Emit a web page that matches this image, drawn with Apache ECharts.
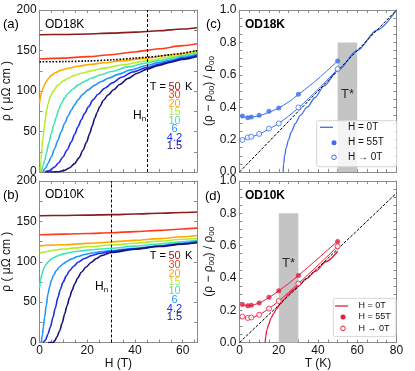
<!DOCTYPE html>
<html><head><meta charset="utf-8">
<script src="https://cdn.jsdelivr.net/npm/echarts@6/dist/echarts.min.js"></script>
<style>html,body{margin:0;padding:0;background:#fff}#c{width:415px;height:371px}</style>
</head><body><div id="c"></div>
<script>
// ---------------- DATA ----------------
const tempLabels = ['50','30','20','15','10','6','4.2','1.5'];
const tempColors = ['#8b1c1c','#ff3b1c','#ffa800','#b6ec2e','#3ee6b4','#2196ff','#1f2fe8','#14147a'];

// Panel (a): OD18K, rho (uOhm cm) vs H (T)
const od18_50 = [[0,169.5],[10,169.8],[20,170.4],[30,171.4],[40,172.7],[50,174.4],[60,176.5],[66,178]];
const od18_30 = [[0,139.5],[10,140.6],[20,142.4],[30,144.8],[40,148.2],[45,150.2],[50,152.2],[60,156],[66,158.3]];
const od18_20 = [[0,85],[0.4,93],[0.8,98.5],[1.4,103],[2,107.5],[2.8,111.7],[3.8,115.8],[4.9,119.3],[6.5,122.5],[9,125.7],[12,128],[16,130.5],[21,132.7],[27,134.8],[35,137.5],[45,140.6],[55,144.8],[66,149.8]];
const od18_15 = [[0.3,0],[0.6,15],[1,30],[1.4,42],[2,57],[2.4,66],[3,77],[3.5,84],[4.5,93],[5.6,99.3],[7.7,107.3],[10,112.5],[11.9,115.8],[14.5,119],[17.5,122],[22,125.2],[27.3,128.3],[35,132.5],[45,137.2],[55,142.3],[66,148]];
const od18_10 = [[0.7,0],[1.5,8],[2.2,15],[2.8,22.7],[3.8,35],[4.9,47.6],[6,58.5],[7,68.2],[8,77],[9.1,84.5],[10.5,91.5],[11.9,97],[14,102.5],[16.1,107.3],[19,112],[21.7,115.7],[25,119.5],[30.1,124],[37,129.8],[45,134.5],[50,137.5],[55,140.5],[60,143.4],[66,146.5]];
const od18_6 = [[1.4,0],[2.5,5],[3.5,10.5],[4.9,18.6],[6.3,29],[7.7,39.3],[9,49.5],[10.5,60],[12,69.5],[13.3,76.5],[14.7,83],[16.1,89],[18,95.5],[20.3,101.4],[23,107],[25.9,111.7],[29,116],[32.9,120.5],[38,126],[45,131.5],[50,135],[55,138.3],[60,141.6],[66,145]];
const od18_4p2 = [[2.1,0],[4,1.5],[6.3,6.2],[8,11.5],[9.8,18.6],[11.5,27],[13.3,37.2],[14.7,46.5],[16.1,55.8],[17.5,64.5],[18.9,72.4],[20.5,80.5],[22.4,89],[24.5,96],[27.3,103.4],[30.5,110],[34.3,117],[39,123.5],[45,129],[50,133],[55,136.8],[60,140.3],[66,143.8]];
const od18_1p5 = [[2.8,0],[5,0],[8,0.3],[10.5,2],[12.5,5],[14.7,10.3],[16.5,17.5],[18.2,26.9],[19.7,37],[21,47.6],[22.1,57],[23.1,66.2],[24.1,73.5],[25.2,80.6],[26.8,88.5],[28.7,95],[31,101.5],[33.6,108],[37,115.5],[41,122],[45,127],[50,131.5],[55,135.5],[60,139],[66,142.5]];
const od18_normal = [[0,136],[10,136.3],[20,137],[30,138.4],[40,140.5],[45,141.7],[50,143.1],[55,144.8],[60,146.6],[66,149.8]];
const Hn18 = 45;

// Panel (b): OD10K
const od10_50 = [[0,157],[10,157.3],[20,157.7],[30,158.3],[40,159.1],[50,160],[60,161],[66,161.6]];
const od10_30 = [[0,133.5],[10,134.2],[20,135],[30,136],[40,137.3],[50,138.8],[60,140.6],[66,141.6]];
const od10_20 = [[0,119.7],[10,121],[20,122.7],[30,124.5],[40,126.5],[50,128.6],[60,131],[66,132.5]];
const od10_15 = [[0,110.5],[1,111.3],[2,112],[3.5,113],[5,113.8],[7.5,114.9],[10,115.8],[15,117.2],[20,118.5],[30,120.7],[40,123],[50,125.5],[60,127.8],[66,129.2]];
const od10_10 = [[0,68],[0.4,77],[0.9,84],[1.4,89],[2,93],[2.8,97],[3.8,100.5],[4.9,103.3],[6.2,105.6],[7.7,107.5],[10,109.7],[13.3,111.8],[17,113.4],[21.7,114.8],[30,116.8],[40,119.3],[50,122],[60,124.8],[66,126.5]];
const od10_6 = [[0.7,0],[1.2,10],[1.6,20],[2.1,31],[2.8,46],[3.5,60],[4.2,69],[4.9,76.6],[5.9,83.5],[7,89],[8.3,93.5],[9.8,97.3],[11.5,100.5],[13.3,103.3],[16,106.5],[18.9,109],[22,110.9],[26,112.5],[30,113.8],[40,116.8],[50,119.7],[60,122.8],[66,125.2]];
const od10_4p2 = [[1.4,0],[2.5,3],[3.5,10.4],[4.5,19],[5.6,31],[6.6,43],[7.7,55.9],[8.7,66],[9.8,74.5],[11.2,82.5],[12.6,89],[14.3,94.5],[16.1,99.4],[18.8,104],[21.7,107.6],[25,110.3],[30,112.7],[40,116],[50,119.2],[60,122.3],[66,124.3]];
const od10_1p5 = [[3.5,0],[5.6,0],[6.3,2],[7.3,7],[8.4,14.5],[9.5,24.5],[10.5,35.2],[11.5,45.5],[12.6,55.9],[13.6,64.5],[14.7,72.5],[16,80],[17.5,87],[19.5,93.5],[21.7,99.4],[23.8,104],[25.9,107.6],[30,111.5],[40,115.5],[50,118.8],[60,121.8],[66,123.5]];
const Hn10 = 30;

// Panels (c),(d): (rho - rho00)/rho00 vs T (K)
const Tpts = [1.5,4.2,6,10,15,20,30,50];
const c_55T = [0.345,0.335,0.34,0.35,0.375,0.395,0.48,0.685];
const c_to0 = [0.198,0.213,0.218,0.235,0.268,0.3,0.398,0.635];
const c_fit55 = [[1,0.34],[5,0.338],[10,0.347],[15,0.368],[20,0.395],[25,0.432],[30,0.478],[40,0.575],[50,0.685]];
const c_fit0 = [[1,0.2],[5,0.212],[10,0.234],[15,0.265],[20,0.3],[25,0.345],[30,0.395],[40,0.51],[50,0.635]];
const c_H0 = [[22.2,0],[22.5,0.05],[23,0.1],[23.8,0.15],[25,0.2],[26.5,0.25],[28.5,0.3],[31,0.35],[34.5,0.4],[38.5,0.46],[43,0.53],[50,0.624],[60,0.75],[70,0.875],[80,1.0]];
const c_diag = [[0,0],[80,1.0]];
const c_band = [50,60,0.8];
const c_tstar = [55,0.48];

const d_55T = [0.235,0.228,0.23,0.245,0.28,0.32,0.415,0.625];
const d_to0 = [0.16,0.152,0.155,0.172,0.21,0.257,0.365,0.595];
const d_fit55 = [[1,0.232],[5,0.229],[10,0.245],[15,0.278],[20,0.32],[25,0.365],[30,0.415],[40,0.52],[50,0.627]];
const d_fit0 = [[1,0.158],[5,0.153],[10,0.172],[15,0.21],[20,0.256],[25,0.31],[30,0.365],[40,0.478],[50,0.595]];
const d_H0 = [[13.1,0],[13.4,0.04],[14,0.08],[14.8,0.11],[16,0.15],[17.4,0.18],[19,0.21],[20.8,0.24],[23,0.27],[25,0.3],[27.5,0.325],[30,0.35],[34,0.395],[38.6,0.44],[44,0.5],[50,0.565]];
const d_diag = [[0,0],[80,0.925]];
const d_band = [20,30,0.8];
const d_tstar = [25,0.49];

const legendNames = ['H = 0T','H = 55T','H → 0T'];

// ---------------- CHART ----------------
const FF = 'Liberation Sans';
const AX = '#8a8a8a';
const TXT = '#111';
const BLUE = '#3b6ff0';
const RED = '#e8193c';

function fmtEvery(step, dec){
  return v => (Math.abs(v/step - Math.round(v/step)) < 1e-6) ? v.toFixed(dec) : '';
}
function xPair(g, min, max, step, lstep, dec, showLab, name){
  const base = {type:'value', gridIndex:g, min:min, max:max, interval:step, splitLine:{show:false},
    axisLine:{onZero:false, lineStyle:{color:AX, width:1}},
    axisTick:{inside:true, length:3, lineStyle:{color:AX}}};
  return [
    Object.assign({}, base, {position:'bottom', name:name||'', nameLocation:'middle', nameGap:11,
      nameTextStyle:{fontSize:12, color:TXT, fontFamily:FF},
      axisLabel:{show:showLab, margin:2, fontSize:12, color:TXT, fontFamily:FF, formatter:fmtEvery(lstep,dec)}}),
    Object.assign({}, base, {position:'top', axisLabel:{show:false}})
  ];
}
function yPair(g, min, max, step, lstep, dec, name, gap){
  const base = {type:'value', gridIndex:g, min:min, max:max, interval:step, splitLine:{show:false},
    axisLine:{onZero:false, lineStyle:{color:AX, width:1}},
    axisTick:{inside:true, length:3, lineStyle:{color:AX}}};
  return [
    Object.assign({}, base, {position:'left', name:name, nameLocation:'middle', nameGap:gap,
      nameTextStyle:{fontSize:12, color:TXT, fontFamily:FF,
        rich:{s:{fontSize:8, fontFamily:FF, color:TXT, verticalAlign:'bottom', lineHeight:5}, n:{fontSize:12, fontFamily:FF, color:TXT, lineHeight:14}}},
      axisLabel:{margin:3, fontSize:12, color:TXT, fontFamily:FF, formatter:fmtEvery(lstep,dec)}}),
    Object.assign({}, base, {position:'right', axisLabel:{show:false}})
  ];
}

const grids = [
  {left:39.6, top:10, width:157.4, height:162},
  {left:39.6, top:181, width:157.4, height:161.5},
  {left:239.5, top:10, width:157, height:162},
  {left:239.5, top:181, width:157, height:161.5}
].map(g => Object.assign(g, {containLabel:false, outerBoundsMode:'none'}));

const xAxes = [].concat(
  xPair(0, 0, 66, 5, 20, 0, false),
  xPair(1, 0, 66, 5, 20, 0, true, 'H (T)'),
  xPair(2, 0, 80, 5, 20, 0, false),
  xPair(3, 0, 80, 5, 20, 0, true, 'T (K)')
);
const rhoName = '{n|ρ ( μΩ cm )}';
const relName = '{n|(ρ − ρ}{s|00}{n|) / ρ}{s|00}';
const yAxes = [].concat(
  yPair(0, 0, 200, 25, 50, 0, rhoName, 19),
  yPair(1, 0, 200, 25, 50, 0, rhoName, 19),
  yPair(2, 0, 1, 0.05, 0.2, 1, relName, 15),
  yPair(3, 0, 1, 0.05, 0.2, 1, relName, 15)
);

const series = [];
function rhoPanel(g, curves, Hn, normal){
  curves.forEach((d, i) => {
    series.push({type:'line', name:'p'+g+'_'+tempLabels[i], xAxisIndex:2*g, yAxisIndex:2*g, data:d,
      symbol:'none', smooth:0.3, smoothMonotone:'x', silent:true, z:3,
      lineStyle:{color:tempColors[i], width:1.6}});
  });
  series.push({type:'line', name:'p'+g+'_hn', xAxisIndex:2*g, yAxisIndex:2*g, data: normal || [],
    symbol:'none', smooth:0.3, silent:true, z:5,
    lineStyle:{color:'#000', width:1.6, type:[1.6,1.6]},
    markLine:{silent:true, symbol:['none','none'], label:{show:false},
      lineStyle:{color:'#000', width:1, type:[3,2]}, data:[{xAxis:Hn}]}});
}
rhoPanel(0, [od18_50, od18_30, od18_20, od18_15, od18_10, od18_6, od18_4p2, od18_1p5], Hn18, od18_normal);
rhoPanel(1, [od10_50, od10_30, od10_20, od10_15, od10_10, od10_6, od10_4p2, od10_1p5], Hn10, null);

function relPanel(g, col, band, tstar, H0, diag, fit55, fit0, v55, v0){
  const xi = 2*g, yi = 2*g;
  series.push({type:'scatter', name:'band'+g, xAxisIndex:xi, yAxisIndex:yi, data:[tstar], symbolSize:1,
    itemStyle:{color:'rgba(0,0,0,0)'}, z:1, silent:true,
    label:{show:true, position:'inside', formatter:'T*', fontSize:13, color:'#000', fontFamily:FF},
    markArea:{silent:true, itemStyle:{color:'#c4c4c4'}, data:[[{xAxis:band[0], yAxis:0},{xAxis:band[1], yAxis:band[2]}]]}});
  series.push({type:'line', name:'H0_'+g, xAxisIndex:xi, yAxisIndex:yi, data:H0, symbol:'none',
    smooth:0.3, smoothMonotone:'x', silent:true, z:3, lineStyle:{color:col, width:1.3}});
  series.push({type:'line', name:'fit55_'+g, xAxisIndex:xi, yAxisIndex:yi, data:fit55, symbol:'none',
    smooth:0.3, silent:true, z:3, lineStyle:{color:col, width:1}});
  series.push({type:'line', name:'fit0_'+g, xAxisIndex:xi, yAxisIndex:yi, data:fit0, symbol:'none',
    smooth:0.3, silent:true, z:3, lineStyle:{color:col, width:1}});
  series.push({type:'line', name:'diag'+g, xAxisIndex:xi, yAxisIndex:yi, data:diag, symbol:'none',
    silent:true, z:5, lineStyle:{color:'#000', width:1, type:[3,1.5]}});
  series.push({type:'scatter', name:'s55_'+g, xAxisIndex:xi, yAxisIndex:yi,
    data:Tpts.map((t,i)=>[t, v55[i]]), symbol:'circle', symbolSize:5, z:6, silent:true,
    itemStyle:{color:col}});
  series.push({type:'scatter', name:'s0_'+g, xAxisIndex:xi, yAxisIndex:yi,
    data:Tpts.map((t,i)=>[t, v0[i]]), symbol:'circle', symbolSize:5, z:6, silent:true,
    itemStyle:{color:'#fff', borderColor:col, borderWidth:1}});
}
relPanel(2, BLUE, c_band, c_tstar, c_H0, c_diag, c_fit55, c_fit0, c_55T, c_to0);
relPanel(3, RED, d_band, d_tstar, d_H0, d_diag, d_fit55, d_fit0, d_55T, d_to0);

// annotation texts + legend boxes
const graphics = [];
function txt(x, y, text, fs, opts){
  graphics.push({type:'text', x:x, y:y, silent:true, z:50,
    style:Object.assign({text:text, font:fs+'px "'+FF+'"', fill:'#000', verticalAlign:'middle', align:'left'}, opts||{})});
}
txt(3, 24.5, '(a)', 13); txt(3, 195, '(b)', 13); txt(206, 24.5, '(c)', 13); txt(205, 196, '(d)', 13);
txt(45, 24.5, 'OD18K', 12); txt(45, 194.5, 'OD10K', 12);
txt(245, 24.5, 'OD18K', 12, {font:'bold 12px "'+FF+'"'}); txt(245, 196, 'OD10K', 12, {font:'bold 12px "'+FF+'"'});
[[86.5, 8.5],[256, 8.75]].forEach(p => {
  txt(166, p[0], 'T =', 11, {align:'right'});
  txt(185, p[0], 'K', 11);
  tempLabels.forEach((lab, i) => txt(174.5, p[0] + i*p[1], lab, 11, {align:'center', fill:tempColors[i]}));
});
function hn(x, y){
  graphics.push({type:'text', x:x, y:y, silent:true, z:50,
    style:{text:'{h|H}{s|n}', verticalAlign:'middle', align:'left',
      rich:{h:{fontSize:12, fontFamily:FF, fill:'#000', lineHeight:14}, s:{fontSize:8, fontFamily:FF, fill:'#000', verticalAlign:'bottom', lineHeight:5}}}});
}
hn(133, 116); hn(95, 287);

function legendBox(col, L){
  graphics.push({type:'rect', silent:true, z:40, shape:{x:L.x, y:L.y, width:L.w, height:L.h, r:2},
    style:{fill:'rgba(255,255,255,0.82)', stroke:'#d6d6d6', lineWidth:1}});
  const ys = L.rows;
  graphics.push({type:'line', silent:true, z:41, shape:{x1:L.lx1, y1:ys[0], x2:L.lx2, y2:ys[0]},
    style:{stroke:col, lineWidth:1.3}});
  graphics.push({type:'circle', silent:true, z:41, shape:{cx:L.cx, cy:ys[1], r:2.5}, style:{fill:col}});
  graphics.push({type:'circle', silent:true, z:41, shape:{cx:L.cx, cy:ys[2], r:2.3}, style:{fill:'#fff', stroke:col, lineWidth:1}});
  legendNames.forEach((n, i) => txt(L.tx, ys[i], n, L.fs, {fill:TXT}));
}
legendBox(BLUE, {x:316.7, y:120.7, w:80, h:46, rows:[127.3,142.7,157.3], lx1:320, lx2:333, cx:334, tx:348, fs:10});
legendBox(RED, {x:333.3, y:298.3, w:62.7, h:38.4, rows:[306,317,328.3], lx1:335, lx2:348, cx:343, tx:358.5, fs:9});

const chart = echarts.init(document.getElementById('c'), null, {renderer:'canvas'});
chart.setOption({
  animation:false,
  backgroundColor:'#fff',
  textStyle:{fontFamily:FF},
  grid:grids, xAxis:xAxes, yAxis:yAxes, series:series, graphic:graphics
});
</script></body></html>
